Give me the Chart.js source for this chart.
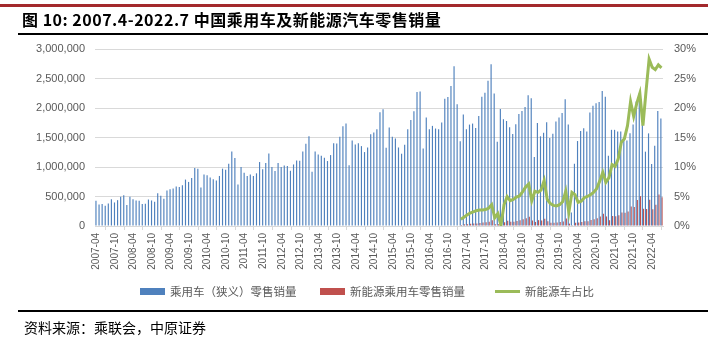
<!DOCTYPE html>
<html>
<head>
<meta charset="utf-8">
<script src="https://cdn.jsdelivr.net/npm/chart.js@4.4.0/dist/chart.umd.min.js"></script>
<style>
body{margin:0;background:#fff;}
#page{position:relative;width:726px;height:348px;overflow:hidden;font-family:"Noto Sans CJK SC",sans-serif;}
#chart{position:absolute;left:0;top:0;}
.redline{position:absolute;left:0;top:4px;width:708px;height:3px;background:#a3292c;}
.rule{position:absolute;left:18px;width:690px;height:2px;background:#000;}
.title{position:absolute;left:22px;top:8px;font-size:16px;line-height:22px;font-weight:bold;letter-spacing:0.5px;color:#000;white-space:nowrap;}
.source{position:absolute;left:24px;top:317px;font-size:14px;line-height:20px;color:#000;white-space:nowrap;}
.lg{position:absolute;top:283px;font-size:11.5px;line-height:16px;color:#595959;white-space:nowrap;}
.lg span{display:inline-block;width:25px;margin-right:5px;vertical-align:middle;position:relative;top:-1px;}
</style>
</head>
<body>
<div id="page">
  <canvas id="chart" width="726" height="348"></canvas>
  <div class="redline"></div>
  <div class="title">图 10: 2007.4-2022.7 中国乘用车及新能源汽车零售销量</div>
  <div class="rule" style="top:33px"></div>
  <div id="legend"></div>
  <div class="rule" style="top:310px"></div>
  <div class="source">资料来源：乘联会，中原证券</div>
</div>
<script>
// ================= DATA =================
// months 2007-04 ... 2022-07
const firstYear = 2007, firstMonth = 4, monthCount = 184;
const months = [];
for (let i = 0; i < monthCount; i++) {
  const m = firstMonth - 1 + i;
  const y = firstYear + Math.floor(m / 12);
  months.push(y + "-" + String(m % 12 + 1).padStart(2, "0"));
}

// 乘用车（狭义）零售销量, one row per year
const retail = [
  427000,365000,371000,343000,382000,455000,399000,438000,494000,                   // 2007 (Apr-)
  522000,354000,494000,455000,433000,427000,371000,376000,449000,433000,410000,556000, // 2008
  511000,460000,601000,623000,635000,669000,663000,691000,787000,747000,815000,983000, // 2009
  972000,652000,871000,860000,820000,792000,770000,848000,972000,955000,1056000,1264000, // 2010
  1152000,702000,1000000,904000,848000,871000,848000,893000,1084000,961000,1067000,1230000, // 2011
  1000000,933000,1067000,998000,1026000,1015000,936000,1043000,1110000,1105000,1263000,1392000, // 2012
  1522000,919000,1263000,1212000,1191000,1157000,1101000,1202000,1404000,1399000,1511000,1691000, // 2013
  1736000,1028000,1449000,1382000,1404000,1354000,1253000,1331000,1556000,1584000,1640000,1927000, // 2014
  1978000,1326000,1669000,1511000,1483000,1331000,1225000,1376000,1640000,1798000,1944000,2270000, // 2015
  2281000,1315000,1837000,1640000,1697000,1652000,1640000,1753000,2157000,2185000,2371000,2708000, // 2016
  2062000,1438000,1888000,1640000,1719000,1736000,1663000,1865000,2190000,2260000,2460000,2740000, // 2017
  2245000,1430000,1985000,1810000,1780000,1675000,1560000,1725000,1900000,1950000,2015000,2215000, // 2018
  2165000,1170000,1745000,1520000,1580000,1760000,1490000,1563000,1772000,1840000,1914000,2150000, // 2019
  1720000,230000,1055000,1440000,1610000,1658000,1602000,1923000,2040000,2080000,2100000,2290000, // 2020
  2190000,1191000,1630000,1630000,1600000,1600000,1506000,1450000,1570000,1720000,2110000,2250000, // 2021
  1720000,1260000,1570000,1050000,1360000,1950000,1820000                               // 2022 (-Jul)
];

// NEV series start at 2017-02
const nevStart = "2017-02";

// 新能源乘用车零售销量
const nevRetail = [
  17000,28000,30000,38000,42000,43000,50000,59000,63000,74000,99000,              // 2017
  31000,30000,2000,65000,89000,72000,70000,85000,97000,113000,133000,157000,       // 2018
  93000,69000,99000,93000,122000,79000,57000,55000,60000,66000,78000,127000,       // 2019
  40000,13000,56000,58000,68000,80000,80000,102000,116000,131000,160000,208000,    // 2020
  162000,98000,170000,165000,182000,227000,223000,247000,331000,320000,439000,506000, // 2021
  292000,287000,444000,282000,360000,532000,488000                                 // 2022
];

// 新能源车占比 (%)
const nevShare = [
  1.15,1.5,1.85,2.2,2.4,2.6,2.7,2.7,2.8,3.0,3.6,            // 2017
  1.4,2.1,0.1,3.6,5.0,4.3,4.5,4.9,5.1,5.8,6.6,7.1,          // 2018
  4.3,5.9,5.7,6.1,7.7,4.5,3.8,3.5,3.4,3.6,4.1,5.9,          // 2019
  2.3,5.7,5.3,4.0,4.2,4.8,5.0,5.3,5.7,6.3,7.6,9.1,          // 2020
  7.4,8.2,10.4,10.1,11.4,14.2,14.8,17.0,21.1,18.6,20.8,22.5, // 2021
  17.0,22.8,28.3,26.9,26.5,27.3,26.8                         // 2022
];

const leftTicks = { min: 0, max: 3000000, step: 500000 };
const rightTicks = { min: 0, max: 30, step: 5 };

// pad NEV series to full month axis
const offset = months.indexOf(nevStart);
const pad = months.slice(0, offset).map(() => null);
const nevRetailData = pad.concat(nevRetail);
const nevShareData = pad.concat(nevShare);

// ================= CHART =================
const tickFont = { family: "Liberation Sans", size: 11 };
const grey = "#595959";

const chart = new Chart(document.getElementById("chart"), {
  type: "bar",
  data: {
    labels: months,
    datasets: [
      {
        type: "line",
        label: "新能源车占比",
        data: nevShareData,
        borderColor: "#9bbb59",
        backgroundColor: "#9bbb59",
        borderWidth: 3,
        pointRadius: 0,
        tension: 0,
        yAxisID: "y2",
        order: 0
      },
      {
        label: "乘用车（狭义）零售销量",
        data: retail,
        backgroundColor: "#4f81bd",
        barPercentage: 1,
        categoryPercentage: 0.75,
        yAxisID: "y",
        order: 1
      },
      {
        label: "新能源乘用车零售销量",
        data: nevRetailData,
        backgroundColor: "#c0504d",
        barPercentage: 1,
        categoryPercentage: 0.75,
        yAxisID: "y",
        order: 2
      }
    ]
  },
  options: {
    responsive: false,
    animation: false,
    devicePixelRatio: 1,
    layout: { padding: { top: 49, left: 0, right: 0, bottom: 0 } },
    plugins: { legend: { display: false }, tooltip: { enabled: false } },
    scales: {
      x: {
        grid: { drawOnChartArea: false, drawTicks: true, tickLength: 4, color: "#d9d9d9" },
        border: { display: true, color: "#d9d9d9" },
        ticks: {
          autoSkip: false,
          minRotation: 90,
          maxRotation: 90,
          padding: 3,
          color: grey,
          font: { family: "Liberation Sans", size: 10 },
          callback: (v, i) => (i % 6 === 0 ? months[i] : null)
        },
        afterFit: s => { s.height = 122; }
      },
      y: {
        position: "left",
        min: leftTicks.min,
        max: leftTicks.max,
        grid: { color: "#d9d9d9", drawTicks: false },
        border: { display: false },
        ticks: {
          stepSize: leftTicks.step,
          padding: 10,
          color: grey,
          font: tickFont,
          callback: v => v.toLocaleString("en-US")
        },
        afterFit: s => { s.width = 95; }
      },
      y2: {
        position: "right",
        min: rightTicks.min,
        max: rightTicks.max,
        grid: { drawOnChartArea: false, drawTicks: false },
        border: { display: false },
        ticks: {
          stepSize: rightTicks.step,
          padding: 11,
          color: grey,
          font: tickFont,
          callback: v => v + "%"
        },
        afterFit: s => { s.width = 63; }
      }
    }
  }
});

// ================= LEGEND =================
const legendOrder = [1, 2, 0];
const legendLeft = [140, 320, 495];
const legendBox = document.getElementById("legend");
legendOrder.forEach((di, k) => {
  const ds = chart.data.datasets[di];
  const div = document.createElement("div");
  div.className = "lg";
  div.style.left = legendLeft[k] + "px";
  const sw = document.createElement("span");
  if (ds.type === "line") {
    sw.style.height = "3px";
    sw.style.background = ds.borderColor;
  } else {
    sw.style.height = "7px";
    sw.style.background = ds.backgroundColor;
  }
  div.appendChild(sw);
  div.appendChild(document.createTextNode(ds.label));
  legendBox.appendChild(div);
});
</script>
</body>
</html>
